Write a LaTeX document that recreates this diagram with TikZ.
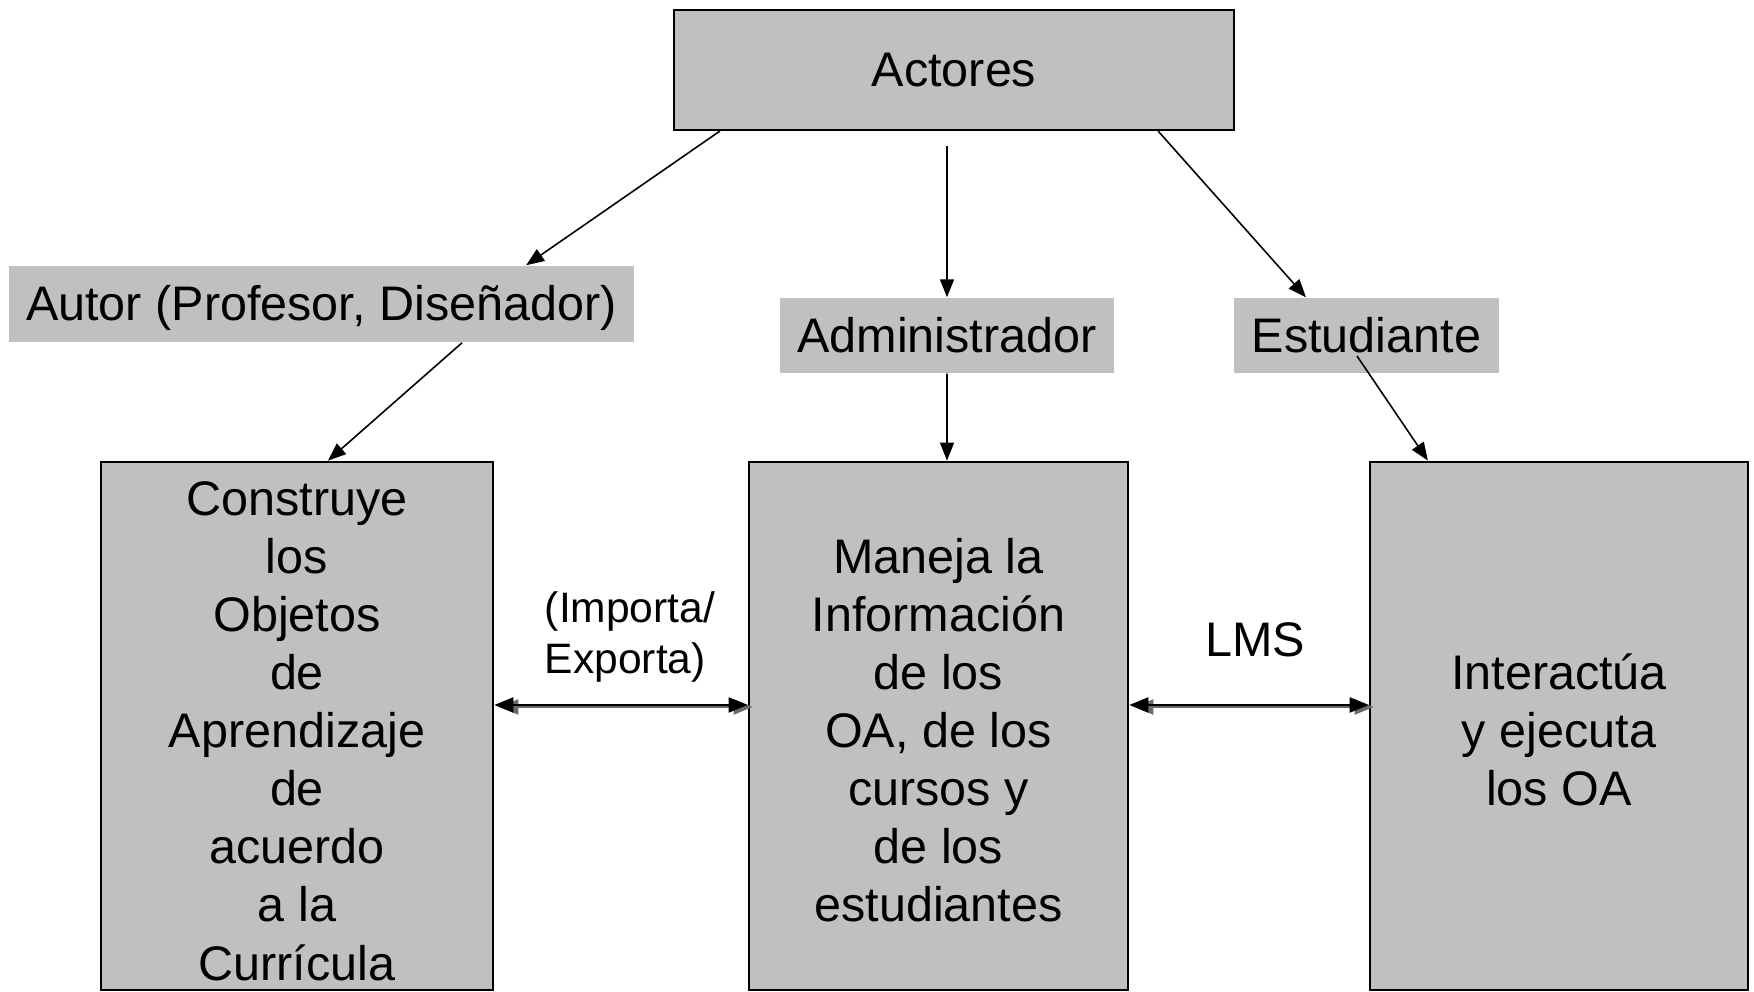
\documentclass[tikz,border=0pt]{standalone}
\usepackage{fontspec}
\setmainfont{Liberation Sans}
\usepackage{tikz}
\usetikzlibrary{arrows.meta}
\definecolor{relleno}{HTML}{C0C0C0}
\definecolor{sombra}{HTML}{6A6A6A}

\begin{document}
\begin{tikzpicture}[x=0.01cm,y=-0.01cm,
  font=\fontsize{13.8}{16.5}\selectfont,
  actorbox/.style={draw=black, line width=0.6pt, fill=relleno, inner sep=0pt, text height=12.5pt, text depth=2.9pt},
  rolebox/.style={fill=relleno, inner sep=0pt, text height=12.5pt, text depth=2.9pt},
  tarea/.style={draw=black, line width=0.7pt, fill=relleno, inner sep=0pt, align=center},
  flecha/.style={-{Triangle[length=1.8mm,width=1.4mm]}, line width=0.45pt},
  doble/.style={{Triangle[length=1.9mm,width=1.5mm]}-{Triangle[length=1.9mm,width=1.5mm]}, line width=0.6pt}]
\useasboundingbox (0,0) rectangle (1754,992);
% draws boxes
\node[actorbox, minimum width=5.59cm, minimum height=1.2cm] (actores) at (954,70) {Actores};
\node[rolebox, minimum width=6.25cm, minimum height=0.76cm] (autor) at (321.5,304) {Autor (Profesor, Diseñador)};
\node[rolebox, minimum width=3.34cm, minimum height=0.75cm] (admin) at (947,335.5) {Administrador};
\node[rolebox, minimum width=2.65cm, minimum height=0.75cm] (estud) at (1366.5,335.5) {Estudiante};
\node[tarea, minimum width=3.92cm, minimum height=5.28cm] (construye) at (297,726) {\rule{0pt}{12.6pt}Construye\\los\\Objetos\\de\\Aprendizaje\\de\\acuerdo\\a la\\Currícula};
\node[tarea, minimum width=3.79cm, minimum height=5.28cm] (maneja) at (938.5,726) {\rule{0pt}{12.6pt}Maneja la\\Información\\de los\\OA, de los\\cursos y\\de los\\estudiantes};
\node[tarea, minimum width=3.78cm, minimum height=5.28cm] (interactua) at (1559,726) {\rule{0pt}{12.6pt}Interactúa\\y ejecuta\\los OA};
% labels arrows
\node[font=\fontsize{12.1}{14.5}\selectfont, align=left] (importa) at (630,637) {(Importa/\\Exporta)};
\node (lms) at (1255,640) {LMS};
% draws arrows
\draw[flecha] ([xshift=-2.34cm]actores.south) -- ([xshift=2.045cm]autor.north);
\draw[flecha] ([xshift=-0.07cm,yshift=-0.15cm]actores.south) -- (admin.north);
\draw[flecha] ([xshift=2.04cm]actores.south) -- ([xshift=-0.605cm]estud.north);
\draw[flecha] ([xshift=1.405cm]autor.south) -- ([xshift=0.31cm]construye.north);
\draw[flecha] (admin.south) -- ([xshift=0.085cm]maneja.north);
\draw[flecha] ([xshift=-0.095cm,yshift=-0.205cm]estud.center) -- ([xshift=-1.31cm]interactua.north);
% draws double arrows
\draw[doble, sombra] ([xshift=0.05cm,yshift=0.19cm]construye.east) -- ([xshift=0.05cm,yshift=0.19cm]maneja.west);
\draw[doble] ([yshift=0.21cm]construye.east) -- ([yshift=0.21cm]maneja.west);
\draw[doble, sombra] ([xshift=0.05cm,yshift=0.19cm]maneja.east) -- ([xshift=0.05cm,yshift=0.19cm]interactua.west);
\draw[doble] ([yshift=0.21cm]maneja.east) -- ([yshift=0.21cm]interactua.west);
\end{tikzpicture}
\end{document}
